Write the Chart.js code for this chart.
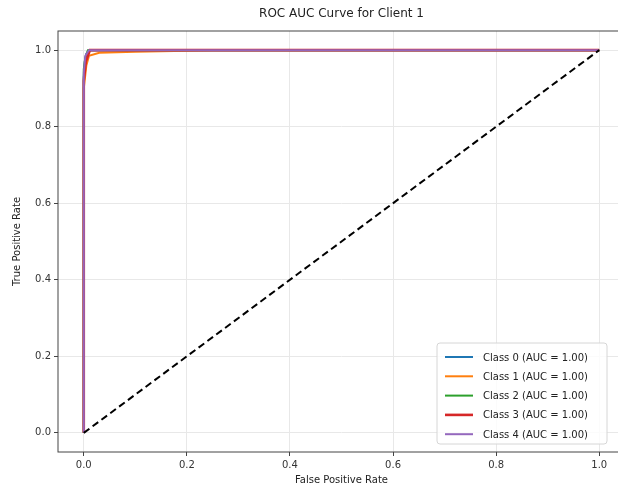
<!DOCTYPE html>
<html>
<head>
<meta charset="utf-8">
<script src="https://cdn.jsdelivr.net/npm/chart.js@4"></script>
<style>
  html, body { margin: 0; padding: 0; background: #fff; overflow: hidden; }
  #wrap { width: 618px; height: 493px; overflow: hidden; }
  #wrap div { width: 630px; height: 493px; }
</style>
</head>
<body>
<div id="wrap"><div><canvas id="roc" width="630" height="493"></canvas></div></div>
<script>
// ROC curves (fpr / tpr per class)
const classLabels = ['Class 0 (AUC = 1.00)', 'Class 1 (AUC = 1.00)', 'Class 2 (AUC = 1.00)', 'Class 3 (AUC = 1.00)', 'Class 4 (AUC = 1.00)'];
const classColors = ['#1f77b4', '#ff7f0e', '#2ca02c', '#d62728', '#9467bd'];
const classWidths = [2, 2, 2, 2.6, 2];

const fpr0 = [0, 0, 0.002, 0.005, 0.01, 1];
const tpr0 = [0, 0.93, 0.97, 0.99, 1, 1];
const fpr1 = [0, 0, 0.005, 0.01, 0.03, 0.1, 0.25, 1];
const tpr1 = [0, 0.9, 0.96, 0.985, 0.993, 0.996, 1, 1];
const fpr2 = [0, 0, 0.003, 0.008, 1];
const tpr2 = [0, 0.95, 0.98, 1, 1];
const fpr3 = [0, 0, 0.004, 0.012, 1];
const tpr3 = [0, 0.92, 0.97, 1, 1];
const fpr4 = [0, 0, 0.003, 0.01, 1];
const tpr4 = [0, 0.94, 0.985, 1, 1];

const chanceX = [0, 1];
const chanceY = [0, 1];

const xTicks = [0, 0.2, 0.4, 0.6, 0.8, 1.0];
const yTicks = [0, 0.2, 0.4, 0.6, 0.8, 1.0];

const fprs = [fpr0, fpr1, fpr2, fpr3, fpr4];
const tprs = [tpr0, tpr1, tpr2, tpr3, tpr4];

const FONT = 'DejaVu Sans';
const toPoints = (xs, ys) => xs.map((x, i) => ({ x: x, y: ys[i] }));

// later classes drawn on top, like matplotlib
const datasets = classLabels.map((label, i) => ({
    label: label,
    data: toPoints(fprs[i], tprs[i]),
    borderColor: classColors[i],
    borderWidth: classWidths[i],
    pointRadius: 0,
    fill: false,
    tension: 0,
    order: classLabels.length - i
}));
datasets.push({
    label: 'chance',
    data: toPoints(chanceX, chanceY),
    borderColor: '#000',
    borderWidth: 2,
    borderDash: [7, 4],
    pointRadius: 0,
    fill: false,
    order: 0
});

// frame, title and in-axes legend like matplotlib
const mplExtras = {
    id: 'mplExtras',
    afterDraw(chart) {
        const ctx = chart.ctx;
        const a = chart.chartArea;
        ctx.save();
        ctx.strokeStyle = '#444';
        ctx.lineWidth = 1;
        ctx.strokeRect(a.left, a.top, a.right - a.left, a.bottom - a.top);

        ctx.fillStyle = '#222';
        ctx.font = '12px "' + FONT + '"';
        ctx.textAlign = 'center';
        ctx.textBaseline = 'middle';
        ctx.fillText('ROC AUC Curve for Client 1', (a.left + a.right) / 2, 14);

        // legend box
        const bx = 437, by = 343, bw = 170, bh = 101;
        ctx.fillStyle = 'rgba(255,255,255,0.8)';
        ctx.strokeStyle = '#d6d6d6';
        ctx.beginPath();
        ctx.roundRect(bx, by, bw, bh, 3);
        ctx.fill();
        ctx.stroke();

        ctx.font = '10px "' + FONT + '"';
        ctx.textAlign = 'left';
        chart.data.datasets.slice(0, classLabels.length).forEach((ds, i) => {
            const y = by + 14 + i * 19.3;
            ctx.strokeStyle = ds.borderColor;
            ctx.lineWidth = ds.borderWidth;
            ctx.beginPath();
            ctx.moveTo(bx + 8, y);
            ctx.lineTo(bx + 36, y);
            ctx.stroke();
            ctx.fillStyle = '#222';
            ctx.fillText(ds.label, bx + 46, y + 1);
        });
        ctx.restore();
    }
};

new Chart(document.getElementById('roc'), {
    type: 'line',
    data: { datasets: datasets },
    plugins: [mplExtras],
    options: {
        responsive: false,
        animation: false,
        layout: { padding: { top: 31, right: 5, left: 0, bottom: 0 } },
        plugins: {
            legend: { display: false },
            tooltip: { enabled: false },
            title: { display: false }
        },
        scales: {
            x: {
                type: 'linear',
                min: -0.05,
                max: 1.05,
                afterBuildTicks: (s) => { s.ticks = xTicks.map(v => ({ value: v })); },
                afterFit: (s) => { s.height = 41; },
                grid: { color: '#e8e8e8', tickColor: '#444', tickLength: 4, drawOnChartArea: true },
                border: { display: false },
                ticks: {
                    padding: 3,
                    color: '#333',
                    font: { family: FONT, size: 10 },
                    maxRotation: 0,
                    callback: (v) => v.toFixed(1)
                },
                title: {
                    display: true,
                    text: 'False Positive Rate',
                    color: '#222',
                    font: { family: FONT, size: 10 },
                    padding: { top: 2, bottom: 7 }
                }
            },
            y: {
                type: 'linear',
                min: -0.05,
                max: 1.05,
                afterBuildTicks: (s) => { s.ticks = yTicks.map(v => ({ value: v })); },
                afterFit: (s) => { s.width = 58; },
                grid: { color: '#e8e8e8', tickColor: '#444', tickLength: 4 },
                border: { display: false },
                ticks: {
                    padding: 3,
                    color: '#333',
                    font: { family: FONT, size: 10 },
                    callback: (v) => v.toFixed(1)
                },
                title: {
                    display: true,
                    text: 'True Positive Rate',
                    color: '#222',
                    font: { family: FONT, size: 10 },
                    padding: { top: 11, bottom: 2 }
                }
            }
        }
    }
});
</script>
</body>
</html>
